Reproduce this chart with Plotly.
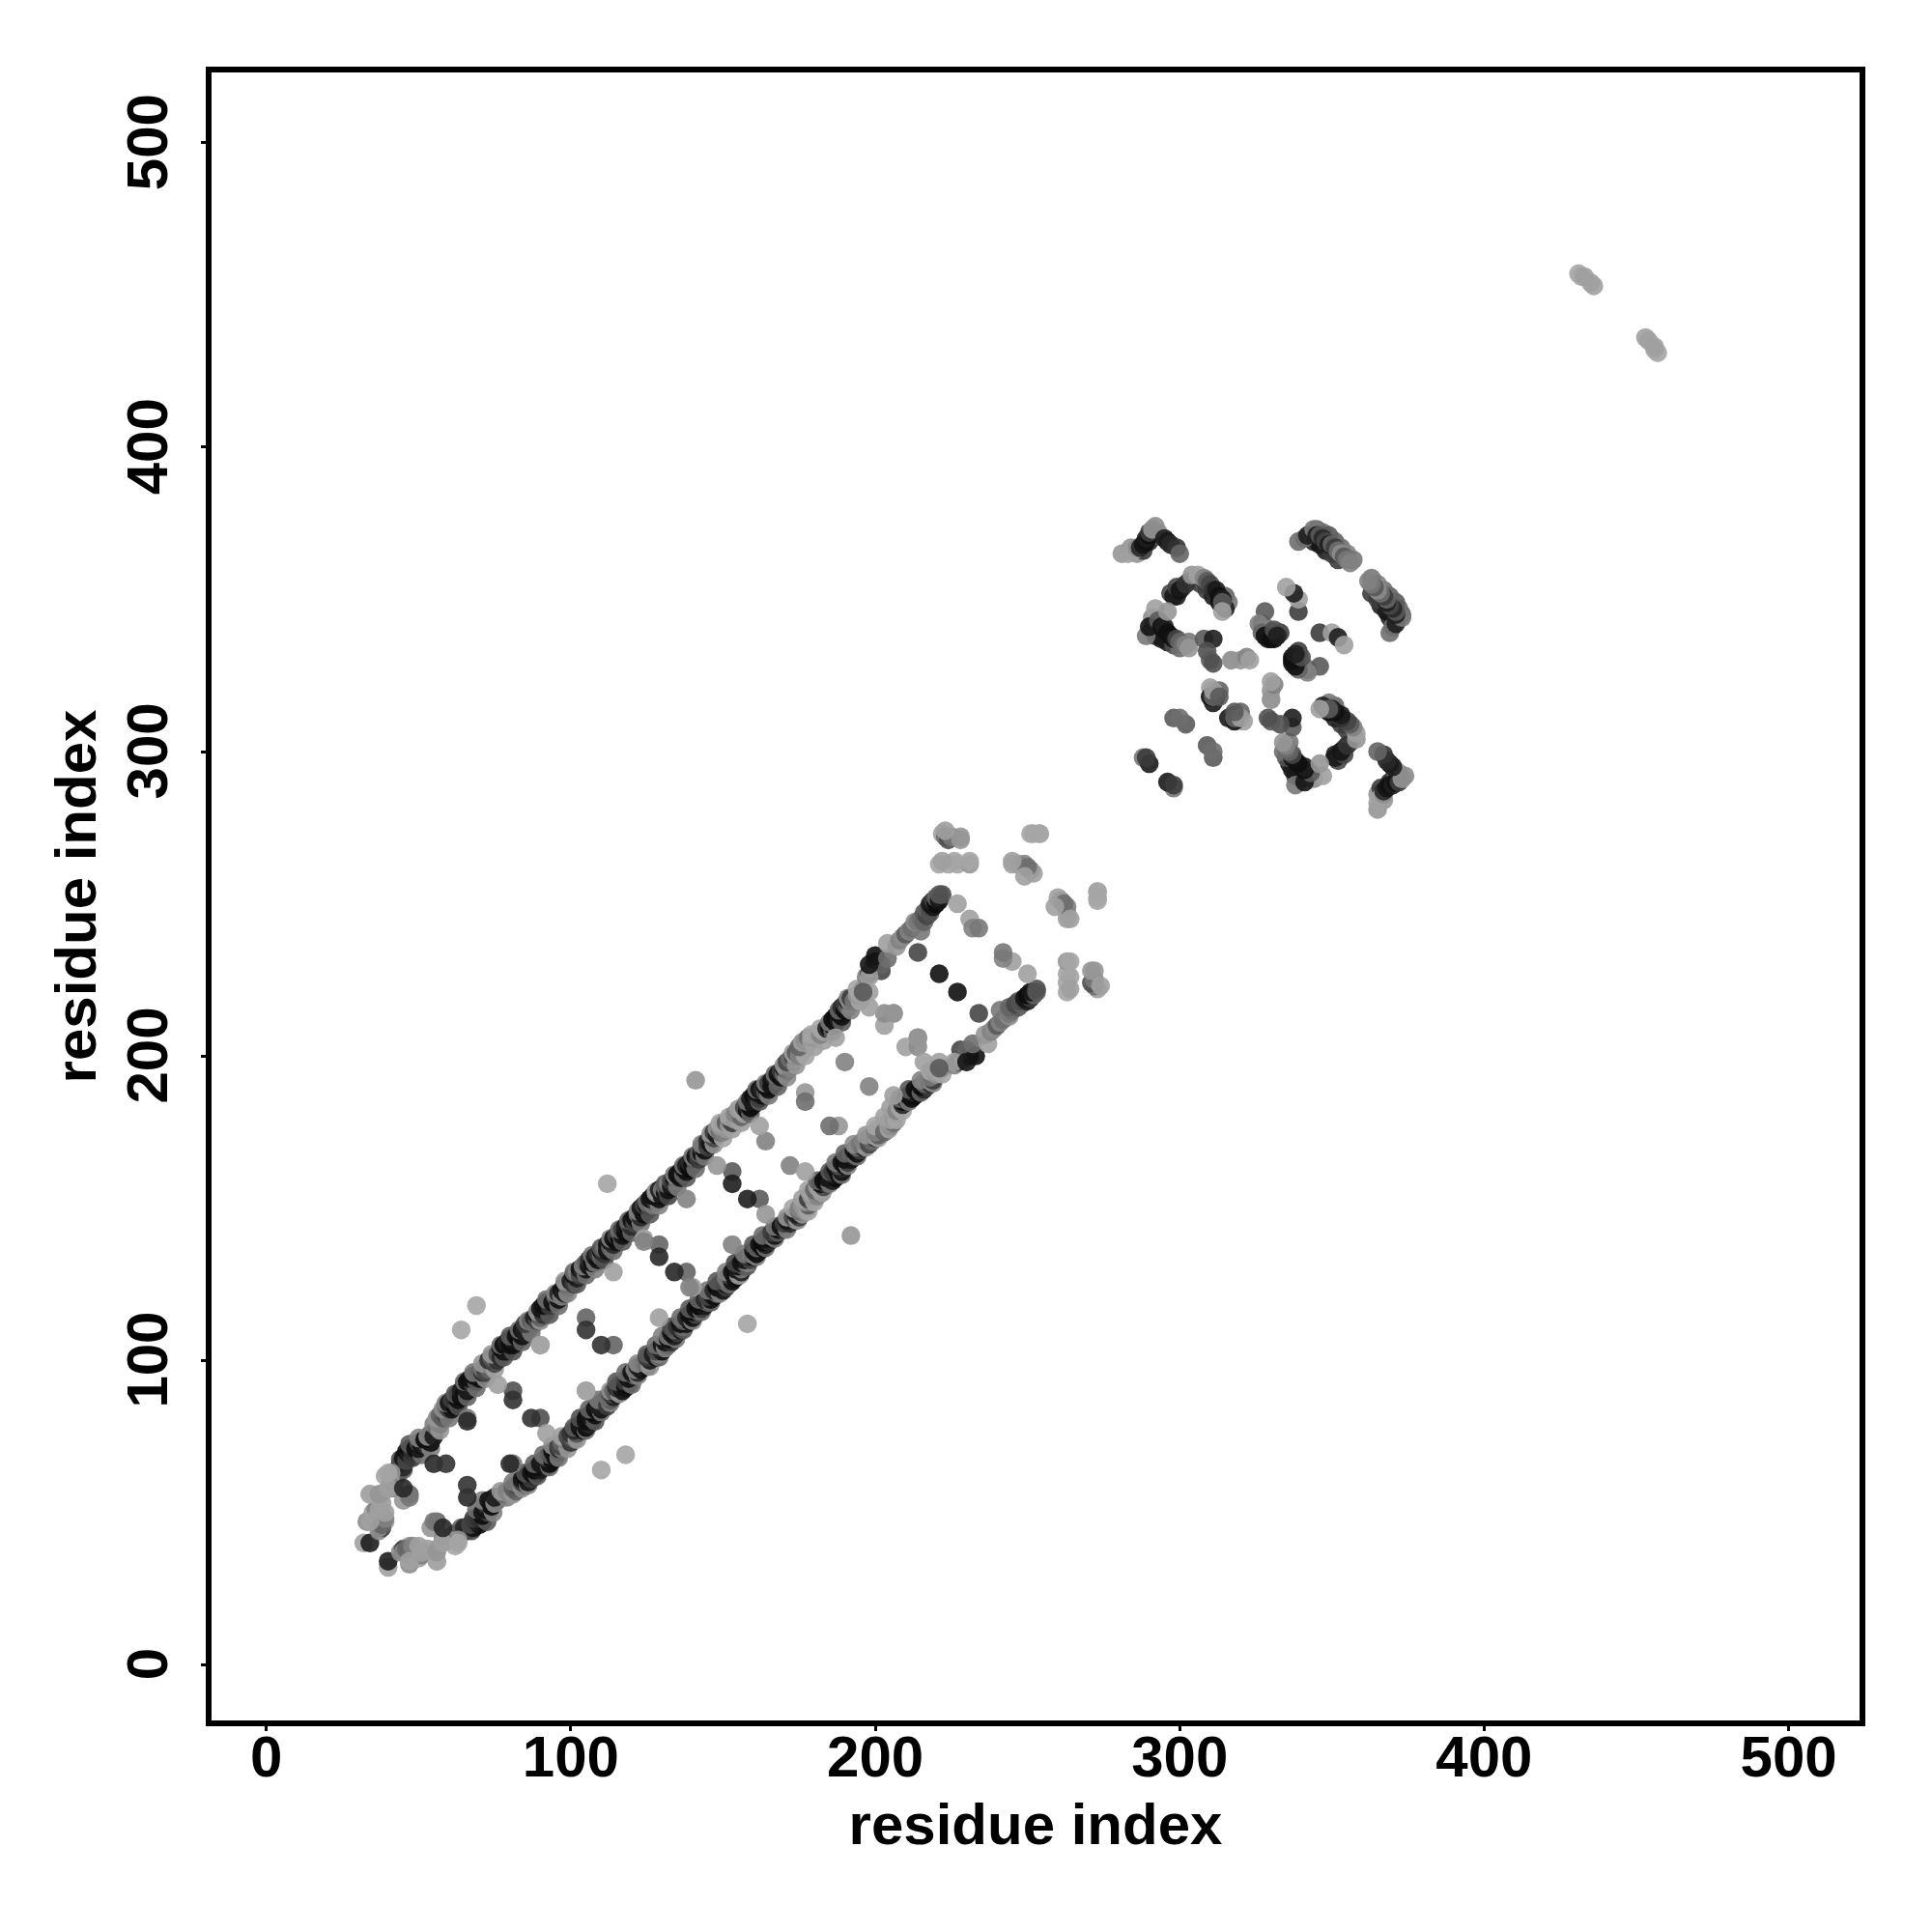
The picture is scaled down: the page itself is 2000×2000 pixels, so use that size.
import plotly.graph_objects as go

# Upper strand of the contact map: residue i, residue j, grey level
strand_i = [42,43,44,44,45,45,46,46,47,47,48,49,
 50,50,51,52,52,53,54,54,55,55,56,56,
 57,57,58,58,59,59,60,60,61,61,62,62,
 63,63,64,64,65,65,66,66,67,67,68,68,
 69,69,70,70,71,71,72,72,73,73,74,74,
 75,75,76,76,77,77,78,78,79,79,80,80,
 81,81,82,82,83,83,84,84,85,85,86,87,
 88,88,89,89,90,90,91,91,92,92,93,94,
 95,95,96,96,97,97,98,98,99,100,101,101,
 102,102,103,103,104,105,105,106,106,107,108,108,
 109,109,110,110,111,111,112,112,113,113,114,114,
 115,115,116,116,117,117,118,118,119,119,120,120,
 121,121,122,122,123,123,124,124,125,125,126,126,
 127,127,128,128,129,129,130,130,131,131,132,132,
 133,133,134,134,135,135,136,136,137,137,138,138,
 139,139,140,140,141,141,142,142,143,143,144,144,
 145,145,146,146,147,147,148,148,149,149,150,150,
 151,151,152,152,153,153,154,154,155,155,156,156,
 157,157,158,158,159,159,160,160,161,161,162,162,
 163,163,164,164,165,165,166,166,167,167,168,168,
 169,169,170,170,171,171,172,172,173,173,174,174,
 175,175,176,176,177,178,178,179,180,181,182,183,
 184,185,186,186,187,187,188,188,189,189,190,190,
 191,191,192,192,193,194,195,196,197,198,199,200,
 198,200,202,202,204,204,
 207,208,209,210,211,212,213,214,215,216,217,218,
 215,216,217,218,218,219,219,220,220,221,221,222]
strand_j = [62,62,64,66,65,68,67,70,69,71,70,71,
 71,73,72,72,74,72,73,76,75,79,78,80,
 79,82,81,84,82,85,84,86,84,87,85,88,
 87,89,88,90,89,92,90,93,91,94,92,95,
 93,95,94,96,96,97,96,98,97,100,98,101,
 99,101,100,102,101,104,103,105,103,106,105,107,
 105,107,106,108,107,109,108,110,109,112,110,113,
 112,114,113,115,114,117,115,118,116,119,118,119,
 119,121,120,122,121,123,122,125,124,126,125,128,
 127,129,128,130,129,130,132,131,133,132,132,134,
 133,135,134,136,135,137,136,138,137,139,138,140,
 139,141,140,142,141,143,142,144,143,145,144,146,
 145,147,146,148,147,150,148,151,149,151,150,153,
 151,154,152,155,153,156,154,156,155,157,156,158,
 157,159,158,160,159,161,160,162,161,163,162,164,
 163,165,164,166,165,167,166,168,168,170,169,171,
 170,172,171,174,173,175,174,176,175,177,175,178,
 176,178,177,179,178,180,179,181,179,182,180,183,
 181,183,182,184,183,186,184,187,186,188,186,189,
 187,189,188,190,189,191,190,192,191,193,192,194,
 193,195,194,196,195,198,196,199,198,200,199,201,
 200,203,201,204,205,204,206,205,206,207,207,208,
 209,209,210,212,211,213,212,214,213,216,215,217,
 216,218,217,219,218,220,220,222,226,227,229,233,
 221,231,228,230,232,237,
 236,238,239,240,241,242,244,244,245,247,248,249,
 241,244,246,247,250,249,251,250,252,251,253,253]
strand_g = [140,60,20,10,40,15,70,15,30,15,50,10,
 20,70,15,30,10,60,15,120,25,130,110,140,
 130,100,90,140,70,110,60,20,20,60,10,40,
 15,70,10,30,15,25,20,10,30,15,60,15,
 90,30,15,100,40,120,70,60,100,50,130,90,
 70,110,50,80,40,20,15,10,25,40,15,15,
 15,70,20,15,10,25,15,15,30,60,40,90,
 110,30,70,15,100,20,50,15,30,10,60,15,
 20,100,15,40,130,15,30,15,120,25,60,15,
 30,130,70,15,40,20,100,15,50,15,120,25,
 15,60,100,15,50,110,15,20,100,10,40,15,
 15,70,10,100,15,60,10,25,15,90,40,15,
 70,15,15,110,40,20,10,60,15,20,80,15,
 120,15,60,140,15,30,15,120,15,100,15,130,
 15,70,50,10,120,10,15,20,100,10,15,25,
 10,40,15,10,100,15,60,90,15,60,15,120,
 60,40,20,130,70,60,30,150,110,150,130,160,
 150,90,150,130,60,160,150,130,160,110,100,160,
 160,70,15,60,10,25,15,10,30,15,60,15,
 15,40,80,10,15,60,15,20,15,40,100,15,
 15,60,100,30,120,70,130,110,100,60,150,90,
 130,100,130,110,140,150,110,160,150,160,130,160,
 40,15,20,10,15,10,30,15,15,40,10,60,
 100,30,130,60,120,150,160,150,130,60,150,15,
 160,30,70,100,110,160,
 150,130,140,90,130,110,140,120,110,90,100,70,
 120,100,70,80,30,20,60,10,100,20,90,80]

# Contacts on the outer and inner edge of the strand
edge_i = [44,47,50,53,56,59,62,65,68,71,74,77,80,83,86,89,92,95,98,101,104,107,110,113,116,119,122,125,128,131,134,137,140,143,146,149,152,155,158,161,164,167,170,173,176,179,182,185,188,191,194,
 45,48,51,54,57,60,63,66,69,72,75,78,81,84,87,90,93,96,99,102,105,108,111,114,117,120,123,126,129,132,135,138,141,144,147,150,153,156,159,162,165,168,171,174,177,180,183,186,189,192,195]
edge_j = [67.5,72.5,74.5,75,81,86,89,93,96,99,102,105,108,110,113,116,120,122,126,129,131,134.5,137,140,143,146,149,152,155.5,158,161,164,167,171,174.5,178,180,182.5,185,189,191,194,197,201,204.5,207,209,211,215,219,222,
 64,68,69,71,77,81,85,88,91,94,97,101,103,106,109,113,115,118,122,125,128,130,133,136,139,142,145,148,151,154,157,160,163,167,171,173,176,178,181,185,187,190,193,197,200,203,205,208,211,215,218]
edge_g = [80,90,130,140,150,130,90,110,120,150,150,110,90,110,130,150,110,130,150,110,130,120,90,130,110,100,130,110,150,90,130,110,120,130,150,165,165,160,120,110,130,110,150,160,160,165,165,120,100,140,165,
 100,60,110,130,150,120,80,100,110,140,160,90,80,100,120,150,90,110,140,90,110,130,80,110,90,100,120,90,130,70,120,90,110,120,150,165,160,160,100,90,120,100,140,150,165,160,160,100,90,130,165]

# Rungs, stray contacts and the start of the ladder
other_i = [32,34,34,38,33,36,35,36,37,38,39,38,39,41,41,42,45,47,37,38,39,39,37,34,34,37,40,40,47,45,55,59,
 64,69,112,141,105,105,81,81,76,66,66,90,90,114,124,129,129,124,153,153,148,138,177,177,164,162,190,206,203,203,206,198,
 214,221,227,231,232,234,198,198,196,187,
 222,223,224,225,228,221,224,227,231,252,254,245,247,249,251,252,250,245,249,231,226,222,251,254,228,223]
other_j = [40,40,56,56,47,48,50,51,44,45,47,53,62,60,63,58,54,56,45,46,48,50,51,47,56,56,58,63,55,58,66,66,
 110,118,158,192,114,110,90,87,92,81,80,105,105,129,140,138,134,139,162,158,164,153,188,185,172,177,198,214,210,214,214,216,
 234,227,250,245,242,242,226,230,221,206,
 273,272,271,272,272,263,263,263,263,273,273,263,263,263,261,260,262,264,259,264,264,264,273,273,271,274]
other_g = [160,30,165,140,140,150,160,130,140,60,160,160,165,160,150,130,150,100,140,100,130,160,160,160,165,150,160,165,120,40,40,50,
 165,165,165,150,100,50,80,50,160,120,40,150,165,160,160,100,40,130,90,30,150,130,150,110,130,160,130,130,160,140,150,160,
 70,15,160,160,130,120,160,20,90,160,
 160,110,80,120,150,165,165,165,150,165,165,160,160,130,110,160,110,160,160,165,165,160,165,165,150,160]

# Second domain, near residues 280-375
domain_i = [284,286,288,290,292,293,
 281,283,285,286,287,288,289,289,290,290,291,292,295,296,297,299,300,
 344,346,348,350,352,345,347,349,351,353,355,357,
 339,341,342,344,345,346,347,348,349,350,351,352,353,354,355,356,
 299,301,303,305,307,309,311,313,315,316,315,
 297,298,299,300,302,304,306,308,309,310,311,312,313,314,314,314,
 291,292,294,296,298,300,303,291,
 289,290,292,293,294,295,296,296,297,298,299,300,301,302,303,
 308,311,309,310,311,317,320,322,323,310,310,312,313,311,311,311,313,
 327,329,331,333,
 329,328,328,331,330,326,327,328,330,331,332,339,339,337.5,335,
 298,302,300,288,290,289]
domain_j = [367,365,366,369,371,372,
 365,365,366,367,367,368,369,370,371,372,373,374,370,369,368,367,365,
 369,368,366,365,363,373,372,371,369,367,365,363,
 369,370,371,373,371,371,370,369,368,368,367,366,365,364,363,362,
 351,354,356,356,355,353,351,349,351,349,347,
 352,351,354,353,355,358,358,357,356,355,353,353,351,350,349,346,
 340,338,337,336,335,334,336,344,
 338,341,347,343,341,341,346,339,338,337,337,336,335,335,334,
 337,337,333,330,329,330,330,331,330,321,318,318,320,316,318,320,318,
 342,337,339,339,
 340,341,346,337,338,342,339,338,337,340,338,346,350,352,354,
 311,309,311,298,296,298]
domain_g = [150,150,60,40,100,150,
 150,160,160,140,40,20,15,30,15,60,150,140,30,25,40,50,100,
 40,20,30,60,60,100,110,90,100,110,130,120,
 110,110,30,120,30,90,40,70,30,100,60,110,140,90,120,130,
 30,100,110,130,70,60,30,20,100,120,30,
 70,25,70,20,50,150,160,130,90,70,50,25,15,30,90,160,
 50,60,20,25,80,110,120,140,
 120,20,160,90,15,30,150,15,15,20,70,100,110,130,150,
 90,30,80,90,80,140,150,130,160,160,15,15,100,25,100,160,90,
 60,20,30,60,
 100,130,90,15,40,130,100,15,15,80,30,60,160,30,160,
 90,90,110,120,25,60]

# Far pair of contacts
far_i = [431,432,433,435,436]
far_j = [457,456,456,454,453]
far_g = [165,165,160,160,160]

tick_values = [0, 100, 200, 300, 400, 500]
axis_title = "residue index"
OPACITY = 0.9

def grey(v):
    return f"rgb({v},{v},{v})"

ladder = sorted(zip(strand_i + edge_i, strand_j + edge_j, strand_g + edge_g), key=lambda c: c[0] + c[1])
i_all = [c[0] for c in ladder] + other_i + domain_i + far_i
j_all = [c[1] for c in ladder] + other_j + domain_j + far_j
g_all = [c[2] for c in ladder] + other_g + domain_g + far_g

fig = go.Figure()
# A contact map is symmetric: each contact (i, j) is drawn on both sides of the diagonal.
for xs, ys in ((i_all, j_all), (j_all, i_all)):
    fig.add_trace(go.Scatter(x=xs, y=ys, mode="markers", hoverinfo="skip", showlegend=False,
                             marker=dict(size=19.5, color=[grey(v) for v in g_all], opacity=OPACITY, line=dict(width=0))))

font = dict(family="Liberation Sans", size=60, color="black", weight="bold")
axis = dict(tickmode="array", tickvals=tick_values,
            ticks="outside", ticklen=5, tickwidth=3, tickcolor="black",
            showline=True, mirror=True, linecolor="black", linewidth=6,
            showgrid=False, zeroline=False, tickfont=font, title=dict(text=axis_title, font=font))
fig.update_layout(width=2000, height=2000, autosize=False, paper_bgcolor="white", plot_bgcolor="white",
                  margin=dict(l=219, r=75, t=75, b=219))
fig.update_xaxes(range=[-18, 523.3], ticktext=[str(v) for v in tick_values], ticklabelstandoff=-25, **axis)
fig.update_yaxes(range=[-18.3, 523.1], ticktext=[str(v) + "\u00a0" for v in tick_values], tickangle=-90, ticklabelstandoff=11, **axis)
fig.update_xaxes(title_standoff=18)
fig.update_yaxes(title_standoff=2)
fig.write_html("out.html", config={"displayModeBar": False}, post_script="document.body.style.margin='0';")
